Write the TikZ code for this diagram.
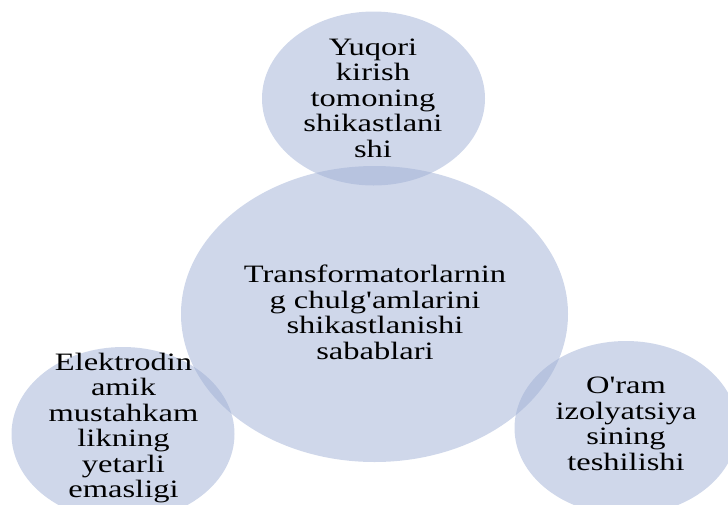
\documentclass[tikz,border=0pt]{standalone}
\usepackage{fontspec}
\setmainfont{Liberation Serif}
\usetikzlibrary{shapes,positioning}

\definecolor{bubblefill}{RGB}{159,175,213}

\begin{document}
\begin{tikzpicture}[x=1pt, y=-1pt,
      bubble/.style={ellipse, fill=bubblefill, fill opacity=0.5, draw=none, inner sep=0pt},
      small/.style={bubble, minimum width=223pt, minimum height=174pt},
      cause/.style={align=center, inner sep=0pt, xscale=1.3,
        font=\fontsize{25}{25.5}\selectfont}]
    \useasboundingbox (0,0) rectangle (728,504);
    \node (main) [bubble, minimum width=387pt, minimum height=296pt] at (374.5,314) {};
    \node (up) [small] at (373.5,98.5) {};
    \node (left) [small] at (123,434) {};
    \node (right) [small] at (626,428) {};
    \node (maintext) [cause] at (375,312.5) {Transformatorlarnin\\g chulg\textquotesingle amlarini\\shikastlanishi\\sabablari};
    \node (uptext) [cause] at (373,98) {Yuqori\\kirish\\tomoning\\shikastlani\\shi};
    \node (lefttext) [cause] at (123.5,428) {Elektrodin\\amik\\mustahkam\\likning\\yetarli\\emasligi};
    \node (righttext) [cause] at (626,424) {O\textquotesingle ram\\izolyatsiya\\sining\\teshilishi};
  \end{tikzpicture}
\end{document}
